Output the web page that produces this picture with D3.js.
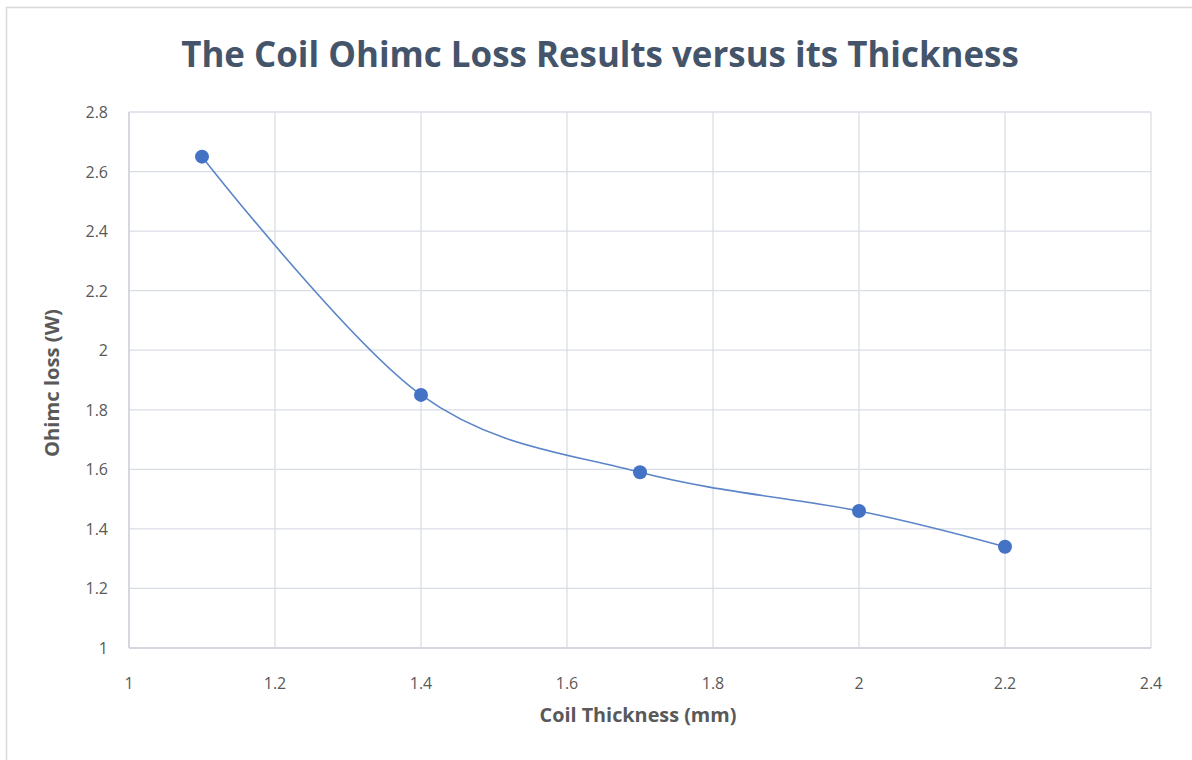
<!DOCTYPE html>
<html><head><meta charset="utf-8">
<script src="https://cdn.jsdelivr.net/npm/d3@7"></script>
<style>body{margin:0;background:#fff;} svg{display:block;}</style>
</head><body>
<svg id="c" width="1192" height="760"></svg>
<script>
const thickness = [1.1, 1.4, 1.7, 2.0, 2.2];
const loss = [2.65, 1.85, 1.59, 1.46, 1.34];
const xTicks = [1, 1.2, 1.4, 1.6, 1.8, 2, 2.2, 2.4];
const yTicks = [1, 1.2, 1.4, 1.6, 1.8, 2, 2.2, 2.4, 2.6, 2.8];
const titleText = "The Coil Ohimc Loss Results versus its Thickness";
const xLabel = "Coil Thickness (mm)";
const yLabel = "Ohimc loss (W)";

const svg = d3.select("#c");
const m = {l:129, r:1151, t:112, b:648};
const x = d3.scaleLinear().domain([1, 2.4]).range([m.l, m.r]);
const y = d3.scaleLinear().domain([1, 2.8]).range([m.b, m.t]);

// chart border
svg.append("path").attr("d","M6.5,760 V7.5 H1192").attr("fill","none").attr("stroke","#d9d9d9").attr("stroke-width",1.5);

const grid = "#d9dde4";
svg.append("g").selectAll("line").data(yTicks).join("line")
  .attr("x1", m.l).attr("x2", m.r).attr("y1", d=>y(d)).attr("y2", d=>y(d))
  .attr("stroke", grid).attr("stroke-width", 1.3);
svg.append("g").selectAll("line").data(xTicks).join("line")
  .attr("y1", m.t).attr("y2", m.b).attr("x1", d=>x(d)).attr("x2", d=>x(d))
  .attr("stroke", grid).attr("stroke-width", 1.3);
// axis lines
svg.append("line").attr("x1",m.l).attr("x2",m.r).attr("y1",m.b).attr("y2",m.b).attr("stroke","#cfd3da").attr("stroke-width",1.5);
svg.append("line").attr("x1",m.l).attr("x2",m.l).attr("y1",m.t).attr("y2",m.b).attr("stroke","#cfd3da").attr("stroke-width",1.5);

const font = "'Open Sans', 'Noto Sans', sans-serif";
svg.append("g").selectAll("text").data(yTicks).join("text")
  .attr("x", 108).attr("y", d=>y(d)+6).attr("text-anchor","end")
  .attr("font-family", font).attr("font-size", 16).attr("fill","#595959")
  .text(d=>d);
svg.append("g").selectAll("text").data(xTicks).join("text")
  .attr("x", d=>x(d)).attr("y", 689).attr("text-anchor","middle")
  .attr("font-family", font).attr("font-size", 16).attr("fill","#595959")
  .text(d=>d);

function fit(sel, w){
  const cur = +sel.attr("font-size");
  const len = sel.node().getComputedTextLength();
  sel.attr("font-size", cur * w / len);
}
const t = svg.append("text").attr("x", 600).attr("y", 67).attr("text-anchor","middle")
  .attr("font-family", font).attr("font-weight","bold").attr("font-size", 30)
  .attr("fill","#44546a").text(titleText);
fit(t, 838);
const xl = svg.append("text").attr("x", 638).attr("y", 722).attr("text-anchor","middle")
  .attr("font-family", font).attr("font-weight","bold").attr("font-size", 16)
  .attr("fill","#595959").text(xLabel);
fit(xl, 197);
const yl = svg.append("text").attr("transform","translate(59,383) rotate(-90)").attr("text-anchor","middle")
  .attr("font-family", font).attr("font-weight","bold").attr("font-size", 16)
  .attr("fill","#595959").text(yLabel);
fit(yl, 148);

const pts = thickness.map((d,i)=>[d, loss[i]]);
const line = d3.line().x(d=>x(d[0])).y(d=>y(d[1])).curve(d3.curveCatmullRom.alpha(0));
svg.append("path").attr("d", line(pts)).attr("fill","none").attr("stroke","#5b85c8").attr("stroke-width",1.6);
svg.append("g").selectAll("circle").data(pts).join("circle")
  .attr("cx", d=>x(d[0])).attr("cy", d=>y(d[1])).attr("r", 7)
  .attr("fill","#4472c4");
</script>
</body></html>
